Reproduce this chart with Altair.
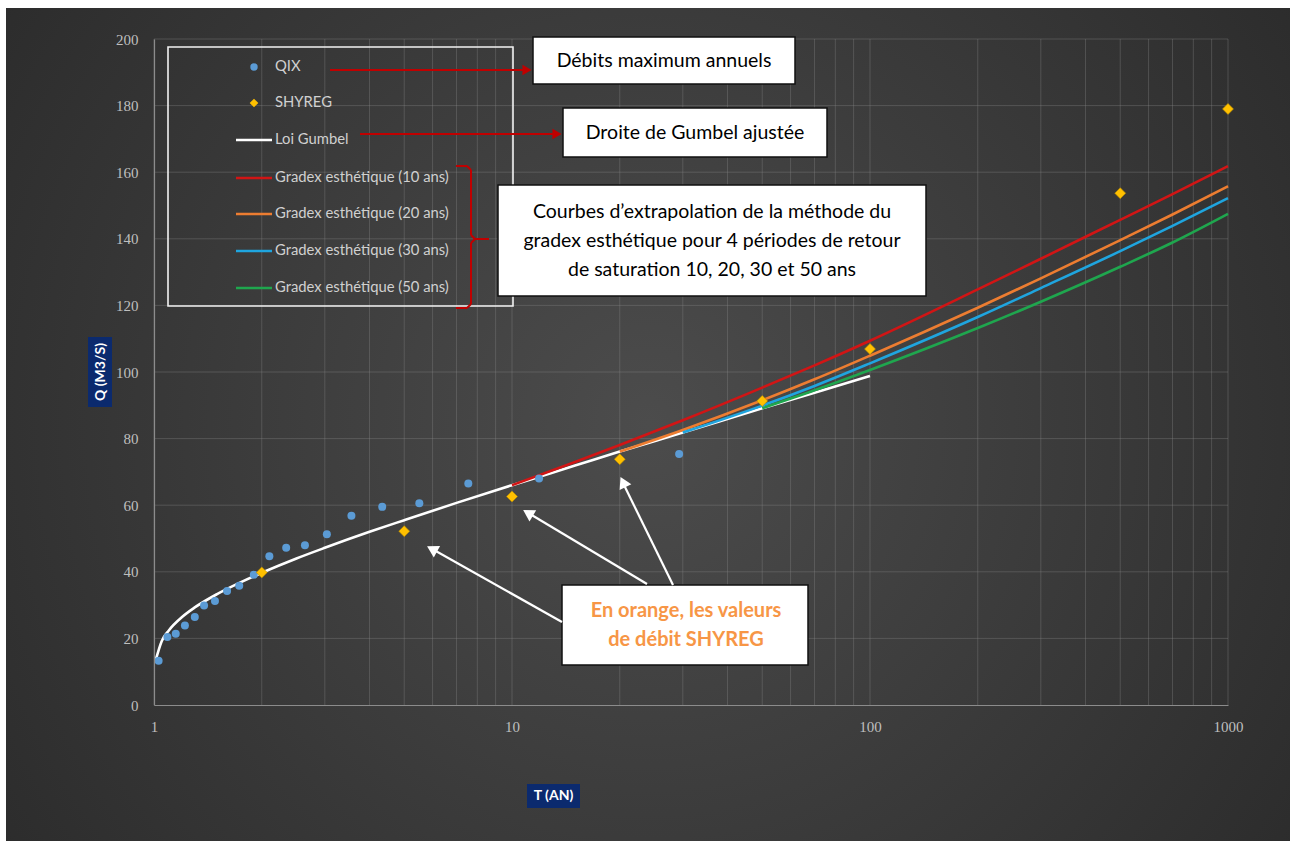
import altair as alt
import pandas as pd

# ---------------- data ----------------
qix_T = [1.03, 1.09, 1.15, 1.22, 1.30, 1.38, 1.48, 1.60, 1.73, 1.90, 2.10, 2.34,
         2.64, 3.04, 3.56, 4.34, 5.51, 7.55, 11.9, 29.3]
qix_Q = [13.3, 20.4, 21.4, 23.9, 26.4, 29.9, 31.2, 34.2, 35.8, 39.1, 44.7, 47.2,
         48.0, 51.3, 56.8, 59.5, 60.6, 66.5, 68.0, 75.4]

shyreg_T = [2, 5, 10, 20, 50, 100, 500, 1000]
shyreg_Q = [39.8, 52.2, 62.6, 73.8, 91.3, 106.9, 153.7, 179.0]

gumbel_T = [1.01, 1.05, 1.1, 1.2, 1.3, 1.5, 1.75, 2, 2.5, 3, 4, 5, 7, 10, 15, 20, 30, 50, 70, 100]
gumbel_Q = [13.3, 19.1, 22.4, 26.5, 29.3, 33.3, 36.9, 39.7, 44.0, 47.2, 52.0, 55.5, 60.7,
            66.0, 71.9, 76.1, 81.8, 89.1, 93.8, 98.8]

g10_T = [10, 15, 20, 30, 50, 70, 100, 200, 300, 500, 700, 1000]
g10_Q = [66.0, 73.0, 78.1, 85.5, 95.3, 102.0, 109.4, 124.8, 134.0, 145.7, 153.4, 161.8]
g20_T = [20, 30, 50, 70, 100, 200, 300, 500, 700, 1000]
g20_Q = [76.1, 82.6, 91.5, 97.8, 104.9, 119.3, 128.1, 139.6, 147.3, 155.8]
g30_T = [30, 50, 70, 100, 200, 300, 500, 700, 1000]
g30_Q = [81.8, 89.9, 95.8, 102.6, 116.5, 125.2, 136.3, 143.9, 152.2]
g50_T = [50, 70, 100, 200, 300, 500, 700, 1000]
g50_Q = [89.1, 94.5, 100.6, 113.2, 121.1, 131.6, 138.9, 147.5]

x_grid = [1, 2, 3, 4, 5, 6, 7, 8, 9, 10, 20, 30, 40, 50, 60, 70, 80, 90,
          100, 200, 300, 400, 500, 600, 700, 800, 900, 1000]
y_grid = [20, 40, 60, 80, 100, 120, 140, 160, 180, 200]
x_ticks = [1, 10, 100, 1000]
y_ticks = [0, 20, 40, 60, 80, 100, 120, 140, 160, 180, 200]

legend_labels = ["QIX", "SHYREG", "Loi Gumbel", "Gradex esthétique (10 ans)",
                 "Gradex esthétique (20 ans)", "Gradex esthétique (30 ans)",
                 "Gradex esthétique (50 ans)"]

C_QIX = "#5B9BD5"
C_SHY = "#FFC000"
C_GUM = "#FFFFFF"
C_10 = "#D11515"
C_20 = "#ED7D31"
C_30 = "#1FA5DF"
C_50 = "#1FA64E"

# ---------------- layout ----------------
OX, OY = 154, 39          # plot origin in page pixels
W, H = 1074, 666
one = pd.DataFrame({"k": [0]})
SANS = "Lato"


def rect(x1, y1, x2, y2, fill, stroke=None, sw=0.0):
    kw = dict(fill=fill)
    if stroke:
        kw.update(stroke=stroke, strokeWidth=sw)
    return alt.Chart(one).mark_rect(**kw).encode(
        x=alt.value(x1 - OX), x2=alt.value(x2 - OX),
        y=alt.value(y1 - OY), y2=alt.value(y2 - OY))


def seg(x1, y1, x2, y2, color, w):
    return alt.Chart(one).mark_rule(color=color, strokeWidth=w, strokeCap="butt").encode(
        x=alt.value(x1 - OX), x2=alt.value(x2 - OX),
        y=alt.value(y1 - OY), y2=alt.value(y2 - OY))


def txt(px, py, s, size, color, weight="normal", font=SANS, align="center", angle=0):
    kw = dict(text=s, fontSize=size, color=color, fontWeight=weight, font=font,
              align=align, baseline="middle")
    if angle:
        kw["angle"] = angle
    return alt.Chart(one).mark_text(**kw).encode(x=alt.value(px - OX), y=alt.value(py - OY))


def sym(px, py, shape, size, color, angle=0):
    kw = dict(shape=shape, size=size, filled=True, color=color, opacity=1)
    if angle:
        kw["angle"] = angle
    return alt.Chart(one).mark_point(**kw).encode(x=alt.value(px - OX), y=alt.value(py - OY))


xscale = alt.Scale(type="log", domain=[1, 1000])
yscale = alt.Scale(domain=[0, 200])

x_axis = alt.Axis(values=x_ticks, title=None, grid=False, ticks=False, format="d",
                  labelFont="Liberation Serif", labelFontSize=15, labelColor="#bfbfbf",
                  labelPadding=14, labelFlush=False, labelOverlap=False,
                  domainColor="#8c8c8c", domainWidth=1.2, zindex=1)
y_axis = alt.Axis(values=y_ticks, title=None, grid=False, ticks=False,
                  labelFont="Liberation Serif", labelFontSize=15, labelColor="#bfbfbf",
                  labelPadding=16, labelFlush=False, labelOverlap=False,
                  domainColor="#8c8c8c", domainWidth=1.2, zindex=1)

X = lambda: alt.X("T:Q", scale=xscale, axis=x_axis)
Y = lambda: alt.Y("Q:Q", scale=yscale, axis=y_axis)

layers = []

# background with radial gradient
bg = alt.Chart(one).mark_rect(fill={
    "gradient": "radial", "x1": 0.5, "y1": 0.5, "x2": 0.5, "y2": 0.5, "r1": 0, "r2": 0.72,
    "stops": [{"offset": 0, "color": "#4c4c4c"}, {"offset": 1, "color": "#262626"}]}).encode(
    x=alt.value(6 - OX), x2=alt.value(1290 - OX), y=alt.value(8 - OY), y2=alt.value(841 - OY))
layers.append(bg)

# grid
layers.append(alt.Chart(pd.DataFrame({"T": x_grid})).mark_rule(color="#8a8a8a", opacity=0.35, strokeWidth=1)
              .encode(x=X()))
layers.append(alt.Chart(pd.DataFrame({"Q": y_grid})).mark_rule(color="#8a8a8a", opacity=0.35, strokeWidth=1)
              .encode(y=Y()))


def line(Ts, Qs, color, width=2.6):
    df = pd.DataFrame({"T": Ts, "Q": Qs})
    return alt.Chart(df).mark_line(color=color, strokeWidth=width, interpolate="monotone").encode(x=X(), y=Y())


layers.append(line(gumbel_T, gumbel_Q, C_GUM))
layers.append(line(g10_T, g10_Q, C_10))
layers.append(line(g20_T, g20_Q, C_20))
layers.append(line(g30_T, g30_Q, C_30))
layers.append(line(g50_T, g50_Q, C_50))

layers.append(alt.Chart(pd.DataFrame({"T": qix_T, "Q": qix_Q})).mark_point(
    shape="circle", size=64, filled=True, color=C_QIX, opacity=1).encode(x=X(), y=Y()))
layers.append(alt.Chart(pd.DataFrame({"T": shyreg_T, "Q": shyreg_Q})).mark_point(
    shape="diamond", size=120, filled=True, color=C_SHY, opacity=1, stroke="#b58a00", strokeWidth=0.6
).encode(x=X(), y=Y()))

# ---------------- legend box ----------------
layers.append(rect(168, 47, 513, 306, "transparent", "#f2f2f2", 1.6))
rows = [67, 103, 140, 178, 214, 251, 288]
layers.append(sym(254, rows[0], "circle", 55, C_QIX))
layers.append(sym(254, rows[1], "diamond", 75, C_SHY))
for r, c in zip(rows[2:], [C_GUM, C_10, C_20, C_30, C_50]):
    layers.append(seg(236, r, 272, r, c, 2.6))
for r, lab in zip(rows, legend_labels):
    layers.append(txt(275, r, lab, 14.8, "#d0d0d0", align="left"))

# ---------------- annotation boxes ----------------
BOX = 19.5
layers.append(rect(533, 37, 795, 84, "white", "#111111", 1.5))
layers.append(txt(664, 60.5, "Débits maximum annuels", BOX, "#000000"))
layers.append(rect(563, 108, 827, 157, "white", "#111111", 1.5))
layers.append(txt(695, 132.5, "Droite de Gumbel ajustée", BOX, "#000000"))
layers.append(rect(498, 185, 926, 296, "white", "#111111", 1.5))
layers.append(txt(712, 212, "Courbes d’extrapolation de la méthode du", BOX, "#000000"))
layers.append(txt(712, 241, "gradex esthétique pour 4 périodes de retour", BOX, "#000000"))
layers.append(txt(712, 270, "de saturation 10, 20, 30 et 50 ans", BOX, "#000000"))
layers.append(rect(562, 585, 808, 665, "white", "#111111", 1.5))
layers.append(txt(686, 611, "En orange, les valeurs", 20, "#F79646", weight="bold"))
layers.append(txt(686, 640, "de débit SHYREG", 20, "#F79646", weight="bold"))

# red arrows from legend
layers.append(seg(330, 70, 524, 70, "#C00000", 2.2))
layers.append(sym(527, 70, "triangle-right", 110, "#C00000"))
layers.append(seg(360, 134, 554, 134, "#C00000", 2.2))
layers.append(sym(557, 134, "triangle-right", 110, "#C00000"))

# red brace
BR = "#C00000"
for a in [(456, 166, 467, 166), (467, 166, 471, 170), (471, 170, 471, 235), (471, 235, 475, 239),
          (475, 239, 489, 239), (471, 243, 475, 239), (471, 243, 471, 304), (471, 304, 467, 308),
          (467, 308, 456, 308)]:
    layers.append(seg(*a, BR, 2))

# white arrows to SHYREG values
layers.append(seg(562, 622, 434, 550, "white", 2.2))
layers.append(sym(432, 549, "triangle-up", 170, "white", angle=299))
layers.append(seg(647, 584, 530, 514, "white", 2.2))
layers.append(sym(528, 513, "triangle-up", 170, "white", angle=301))
layers.append(seg(673, 585, 624, 485, "white", 2.2))
layers.append(sym(623, 482, "triangle-up", 170, "white", angle=334))

# axis titles in dark-blue boxes
layers.append(rect(88, 337, 112, 407, "#0b2a6e"))
layers.append(txt(100.5, 372, "Q (M3/S)", 14, "#ffffff", weight="bold", angle=270))
layers.append(rect(527, 784, 580, 808, "#0b2a6e"))
layers.append(txt(553.5, 796, "T (AN)", 14, "#ffffff", weight="bold"))

chart = alt.layer(*layers).properties(
    width=W, height=H,
    padding={"left": OX, "top": OY, "right": 1290 - OX - W, "bottom": 841 - OY - H},
    autosize=alt.AutoSizeParams(type="none"),
    background="#ffffff",
).configure_view(strokeWidth=0)

chart.save("out.html", embed_options={"renderer": "svg", "actions": False})
